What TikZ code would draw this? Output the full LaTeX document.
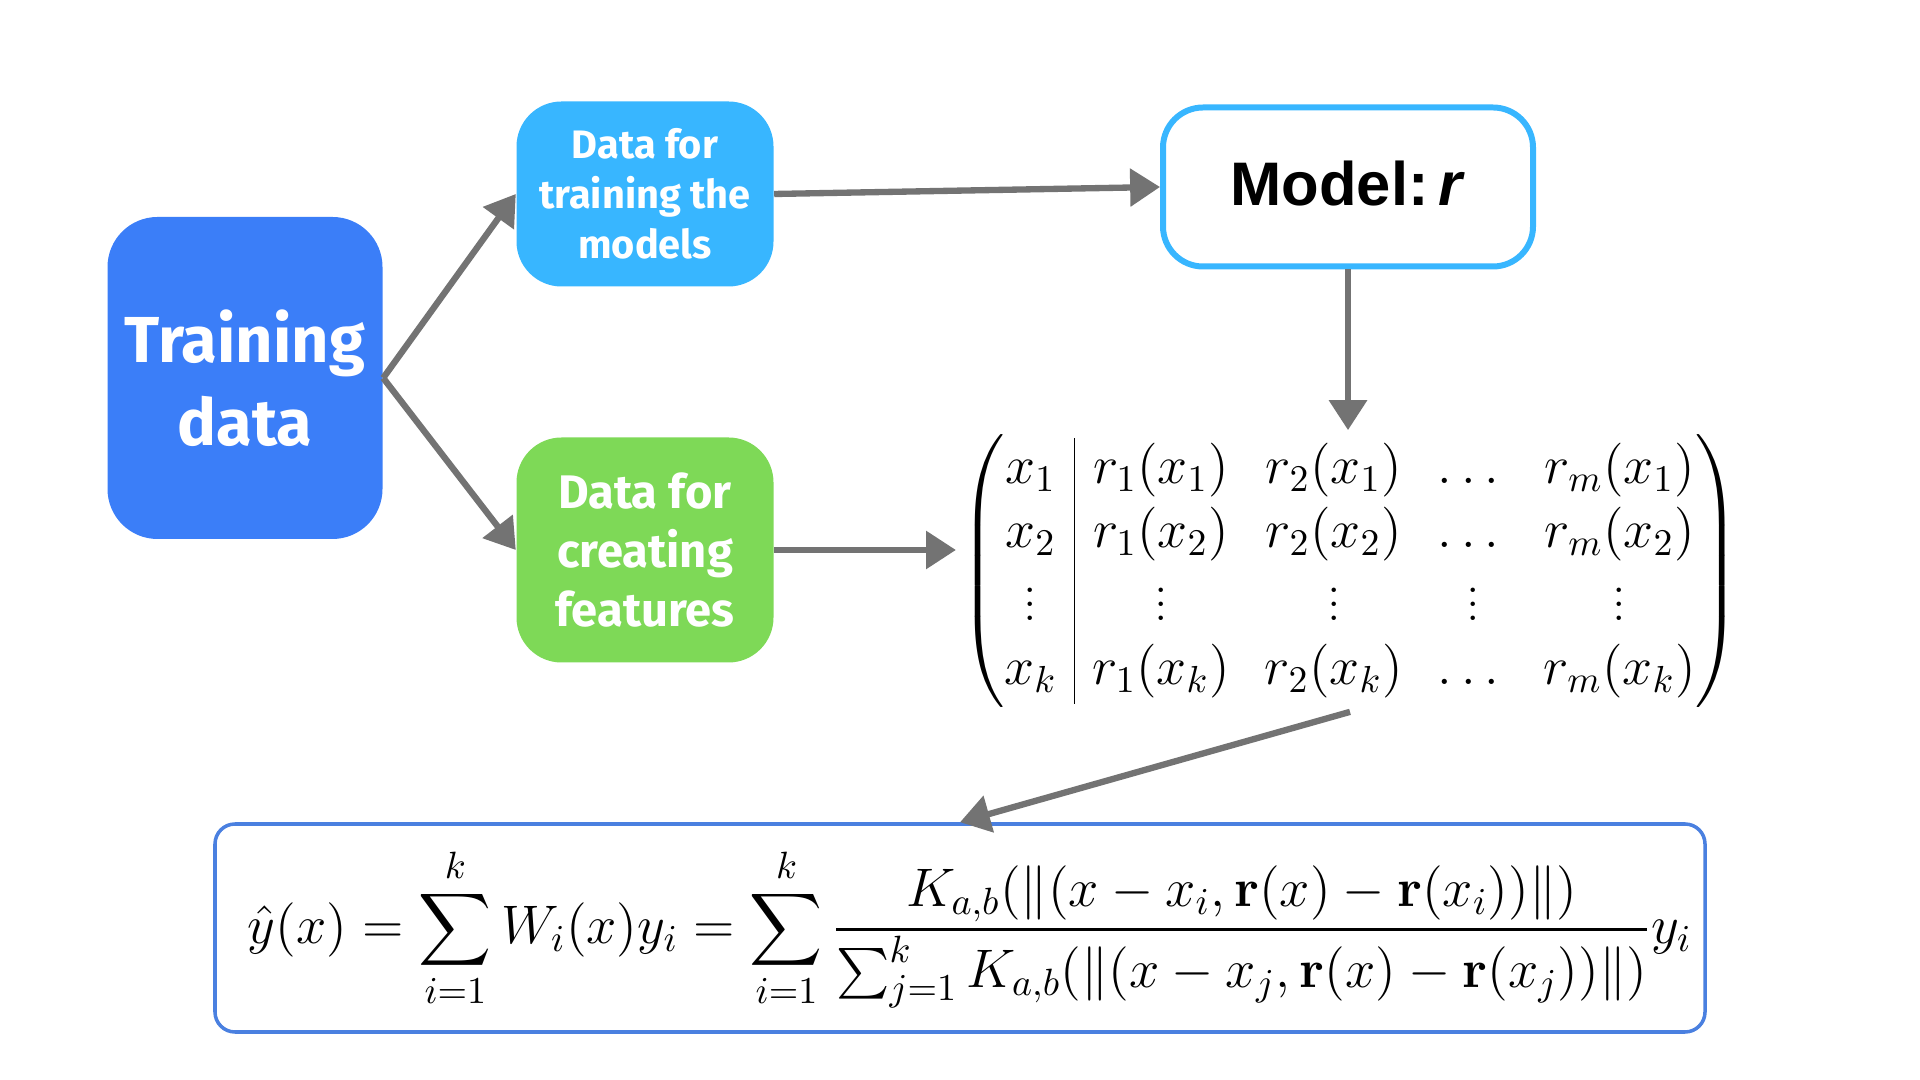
\RequirePackage{fix-cm}
\documentclass[tikz,border=0pt]{standalone}
\usepackage{amsmath}
\usepackage[no-math]{fontspec}
\newfontfamily\boxfont{Fira Sans}
\newfontfamily\arialfont{Liberation Sans}
\usetikzlibrary{shapes,arrows.meta}
\definecolor{trainblue}{HTML}{3B7EF8}
\definecolor{skyblue}{HTML}{38B6FF}
\definecolor{leafgreen}{HTML}{7ED957}
\definecolor{frameblue}{HTML}{4A80E0}
\definecolor{arrowgray}{HTML}{737373}

\begin{document}
\begin{tikzpicture}[every path/.style={>={Triangle[length=8.5pt,width=10.5pt]}},
                    box/.style={rounded corners=0.45cm,text=white,align=center,inner sep=0pt},
                    link/.style={->,draw=arrowgray,line width=1.8pt}]
  \useasboundingbox (0,0) rectangle (19.2,10.8);
  \node[box,fill=trainblue,minimum width=2.75cm,minimum height=3.22cm,rounded corners=0.5cm,
        font=\boxfont\bfseries\fontsize{18.5}{23.6}\selectfont] (train) at (2.45,7.02) {Training\\data};
  \node[box,fill=skyblue,minimum width=2.57cm,minimum height=1.85cm,
        font=\boxfont\bfseries\fontsize{11.3}{14.2}\selectfont] (fit) at (6.45,8.86) {Data for\\training the\\models};
  \node[box,fill=leafgreen,minimum width=2.57cm,minimum height=2.25cm,
        font=\boxfont\bfseries\fontsize{13.4}{16.8}\selectfont] (feat) at (6.45,5.30) {Data for\\creating\\features};
  \node[draw=skyblue,fill=white,line width=1.7pt,rounded corners=0.4cm,minimum width=3.70cm,minimum height=1.59cm,
        font=\arialfont\bfseries\fontsize{17.5}{21}\selectfont] (model) at (13.48,8.93) {\raisebox{0.7mm}{Model:\,\textit{r}}};
  \node[inner sep=1pt,font=\fontsize{15.3}{18.3}\selectfont] (mat) at (13.50,5.09)
    {$\left(\begin{array}{@{}c|cccc@{}}
      x_1 & r_1(x_1) & r_2(x_1) & \dots & r_m(x_1)\\
      x_2 & r_1(x_2) & r_2(x_2) & \dots & r_m(x_2)\\
      \vdots & \vdots & \vdots & \vdots & \vdots\\
      x_k & r_1(x_k) & r_2(x_k) & \dots & r_m(x_k)
    \end{array}\right)$};
  \node[draw=frameblue,fill=white,line width=1pt,rounded corners=0.2cm,minimum width=14.9cm,minimum height=2.08cm,
        font=\fontsize{15.45}{18}\selectfont] (formula) at (9.60,1.52)
    {\hspace*{0.2cm}$\displaystyle \hat{y}(x)=\sum_{i=1}^{k}W_i(x)y_i=\sum_{i=1}^{k}
      \frac{K_{a,b}(\|(x-x_i,\mathbf{r}(x)-\mathbf{r}(x_i))\|)}
           {\sum_{j=1}^{k}K_{a,b}(\|(x-x_j,\mathbf{r}(x)-\mathbf{r}(x_j))\|)}y_i$};
  \draw[link] (train.east) -- (fit.west);
  \draw[link] (train.east) -- (feat.west);
  \draw[link] (fit.east) -- (model.west);
  \draw[link] (feat.east) -- (feat.east -| mat.west);
  \draw[link] (model.south) -- (model.south |- mat.north);
  \draw[link] (mat.south) -- (formula.north);
\end{tikzpicture}
\end{document}
